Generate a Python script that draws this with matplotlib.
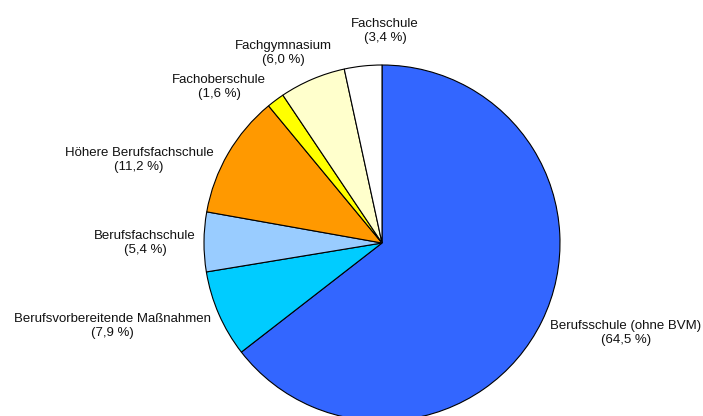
import matplotlib
matplotlib.use("Agg")
import matplotlib.pyplot as plt

categories = ["Berufsschule (ohne BVM)", "Berufsvorbereitende Maßnahmen", "Berufsfachschule",
              "Höhere Berufsfachschule", "Fachoberschule", "Fachgymnasium", "Fachschule"]
values = [64.5, 7.9, 5.4, 11.2, 1.6, 6.0, 3.4]
colors = ["#3366FF", "#00CCFF", "#99CCFF", "#FF9900", "#FFFF00", "#FFFFCC", "#FFFFFF"]
label_pos = [(626, 333), (112, 326), (145, 243), (139, 160), (219, 87), (283, 53), (385, 31)]

W, H = 703, 416
fig = plt.figure(figsize=(W / 100, H / 100), dpi=100)
ax = fig.add_axes([0, 0, 1, 1])
ax.set_xlim(0, W)
ax.set_ylim(0, H)
ax.axis("off")

cx, cy, r = 382, H - 243, 178
ax.pie(values, colors=colors, startangle=90, counterclock=False, center=(cx, cy), radius=r,
       wedgeprops=dict(edgecolor="black", linewidth=0.8), frame=False)
ax.set_xlim(0, W)
ax.set_ylim(0, H)
ax.set_aspect("equal")

for name, v, (x, y) in zip(categories, values, label_pos):
    txt = f"{name}\n({v:.1f} %)".replace(".", ",")
    ax.text(x, H - y, txt, ha="center", va="center", fontsize=9.5, family="Liberation Sans",
            linespacing=1.32, color="#111111")

fig.savefig("out.png", dpi=100)
